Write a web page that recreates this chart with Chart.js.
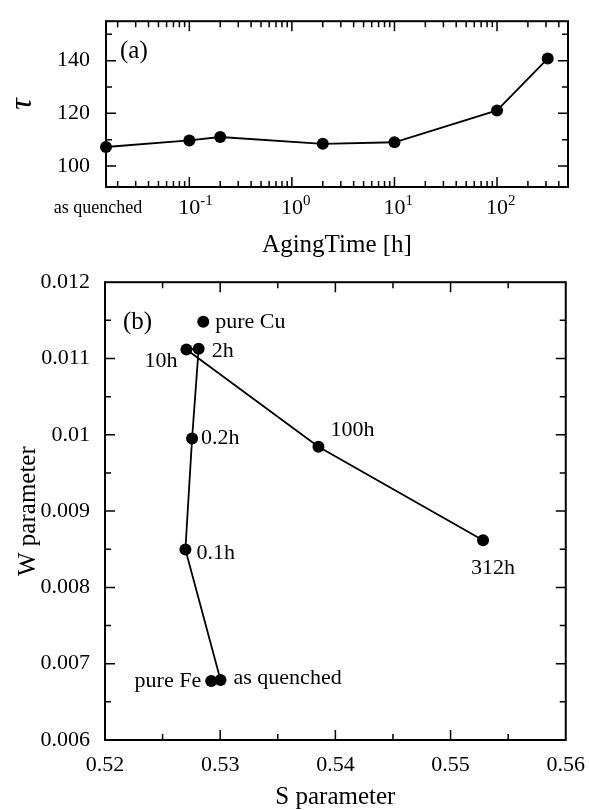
<!DOCTYPE html>
<html>
<head>
<meta charset="utf-8">
<script src="https://cdn.jsdelivr.net/npm/chart.js@4.4.1/dist/chart.umd.min.js"></script>
<style>
  html, body { margin: 0; padding: 0; background: #fff; }
  #wrap { position: relative; width: 589px; height: 810px; }
  #chartA { position: absolute; left: 0; top: 0; }
  #chartB { position: absolute; left: 0; top: 262px; }
</style>
</head>
<body>
<div id="wrap">
  <canvas id="chartA" width="589" height="262"></canvas>
  <canvas id="chartB" width="589" height="548"></canvas>
</div>
<script>
'use strict';
// (a) tau vs aging time, (b) S-W parameter plot

// panel (a) data
var agingTimes = [0.0154, 0.1, 0.2, 2, 10, 100, 312];
var tauValues = [107.2, 109.7, 111.0, 108.4, 109.0, 121.1, 140.8];
var timeTicks = [0.0154, 0.1, 1, 10, 100];
var timeTickLabels = ['as quenched', '10^-1', '10^0', '10^1', '10^2'];
var tauTicks = [100, 120, 140];

// panel (b) data
var agingLabels = ['as quenched', '0.1h', '0.2h', '2h', '10h', '100h', '312h'];
var sValues = [0.53003, 0.52698, 0.52756, 0.52813, 0.52707, 0.53853, 0.55282];
var wValues = [0.006786, 0.008498, 0.009951, 0.011127, 0.011118, 0.009843, 0.008619];
var refLabels = ['pure Cu', 'pure Fe'];
var refS = [0.52853, 0.52922];
var refW = [0.011481, 0.006773];
var sTicks = [0.52, 0.53, 0.54, 0.55, 0.56];
var wTicks = [0.006, 0.007, 0.008, 0.009, 0.010, 0.011, 0.012];

var SERIF = "'Liberation Serif', 'Times New Roman', serif";

// frame with inward ticks on all four sides
var frameTicks = {
  id: 'frameTicks',
  beforeDatasetsDraw: function(chart, args, opts) {
    var ctx = chart.ctx;
    var a = chart.chartArea;
    var xs = chart.scales.x;
    var ys = chart.scales.y;
    ctx.save();
    ctx.strokeStyle = '#000';
    ctx.lineWidth = 1.5;
    ctx.beginPath();
    var tickX = function(v, len) {
      var px = xs.getPixelForValue(v);
      ctx.moveTo(px, a.bottom); ctx.lineTo(px, a.bottom - len);
      ctx.moveTo(px, a.top); ctx.lineTo(px, a.top + len);
    };
    var tickY = function(v, len) {
      var py = ys.getPixelForValue(v);
      ctx.moveTo(a.left, py); ctx.lineTo(a.left + len, py);
      ctx.moveTo(a.right, py); ctx.lineTo(a.right - len, py);
    };
    opts.majorX.forEach(function(v) { tickX(v, 10); });
    opts.minorX.forEach(function(v) { tickX(v, 6); });
    opts.majorY.forEach(function(v) { tickY(v, 10); });
    opts.minorY.forEach(function(v) { tickY(v, 6); });
    ctx.stroke();
    ctx.lineWidth = 2;
    ctx.strokeRect(a.left, a.top, a.right - a.left, a.bottom - a.top);
    ctx.font = '25px ' + SERIF;
    ctx.fillStyle = '#000';
    ctx.textAlign = 'left';
    ctx.textBaseline = 'middle';
    ctx.fillText(opts.panel, a.left + opts.panelDx, a.top + opts.panelDy);
    ctx.restore();
  }
};

// log-axis labels with superscripts for panel (a)
var powerLabels = {
  id: 'powerLabels',
  afterDraw: function(chart) {
    var ctx = chart.ctx;
    var a = chart.chartArea;
    var xs = chart.scales.x;
    ctx.save();
    ctx.fillStyle = '#000';
    ctx.textBaseline = 'middle';
    timeTicks.forEach(function(v, i) {
      var px = xs.getPixelForValue(v);
      var lab = timeTickLabels[i];
      var parts = lab.split('^');
      if (parts.length === 1) {
        ctx.font = '18px ' + SERIF;
        ctx.textAlign = 'center';
        ctx.fillText(lab, px - 8, a.bottom + 21);
      } else {
        ctx.font = '22px ' + SERIF;
        ctx.textAlign = 'center';
        ctx.fillText(parts[0], px, a.bottom + 21);
        var w = ctx.measureText(parts[0]).width;
        ctx.font = '15px ' + SERIF;
        ctx.textAlign = 'left';
        ctx.fillText(parts[1], px + w / 2, a.bottom + 14);
      }
    });
    ctx.restore();
  }
};

// text next to the points of panel (b)
var pointNotes = {
  id: 'pointNotes',
  afterDatasetsDraw: function(chart, args, opts) {
    var ctx = chart.ctx;
    ctx.save();
    ctx.fillStyle = '#000';
    ctx.font = '22px ' + SERIF;
    ctx.textBaseline = 'middle';
    opts.notes.forEach(function(n) {
      var el = chart.getDatasetMeta(n.ds).data[n.i];
      var text = n.ds === 0 ? agingLabels[n.i] : refLabels[n.i];
      ctx.textAlign = n.align;
      ctx.fillText(text, el.x + n.dx, el.y + n.dy);
    });
    ctx.restore();
  }
};

var logMinor = [];
[0.01, 0.1, 1, 10, 100].forEach(function(d) {
  for (var k = 2; k <= 9; k++) {
    var v = k * d;
    if (v > 0.0154 && v < 492) logMinor.push(v);
  }
});

var chartA = new Chart(document.getElementById('chartA').getContext('2d'), {
  type: 'scatter',
  data: {
    datasets: [{
      data: agingTimes.map(function(t, i) { return { x: t, y: tauValues[i] }; }),
      showLine: true,
      borderColor: '#000',
      borderWidth: 1.8,
      backgroundColor: '#000',
      pointRadius: 6,
      pointBorderWidth: 0,
      clip: false
    }]
  },
  options: {
    responsive: false,
    animation: false,
    layout: { autoPadding: false, padding: { top: 9, right: 21, left: 0, bottom: 0 } },
    plugins: {
      legend: { display: false },
      tooltip: { enabled: false },
      frameTicks: {
        majorX: [0.1, 1, 10, 100], minorX: logMinor,
        majorY: tauTicks, minorY: [110, 130, 150],
        panel: '(a)', panelDx: 14, panelDy: 30
      }
    },
    scales: {
      x: {
        type: 'logarithmic',
        min: 0.0154,
        max: 492,
        grid: { display: false },
        border: { display: false },
        ticks: { display: false },
        afterBuildTicks: function(scale) { scale.ticks = timeTicks.map(function(v) { return { value: v }; }); },
        afterFit: function(scale) { scale.height = 75; },
        title: {
          display: true, text: 'AgingTime [h]', color: '#000',
          font: { family: SERIF, size: 25, lineHeight: 1 },
          padding: { top: 0, bottom: 4.5 }
        }
      },
      y: {
        min: 92,
        max: 155,
        grid: { display: false },
        border: { display: false },
        afterBuildTicks: function(scale) { scale.ticks = tauTicks.map(function(v) { return { value: v }; }); },
        afterFit: function(scale) { scale.width = 106; },
        ticks: { color: '#000', padding: 8, autoSkip: false, font: { family: SERIF, size: 22 } },
        title: {
          display: true, text: 'τ', color: '#000',
          font: { family: SERIF, size: 32, style: 'italic', lineHeight: 1 },
          padding: { top: 7, bottom: 0 }
        }
      }
    }
  },
  plugins: [frameTicks, powerLabels]
});

var chartB = new Chart(document.getElementById('chartB').getContext('2d'), {
  type: 'scatter',
  data: {
    datasets: [{
      data: sValues.map(function(s, i) { return { x: s, y: wValues[i] }; }),
      showLine: true,
      borderColor: '#000',
      borderWidth: 1.8,
      backgroundColor: '#000',
      pointRadius: 6,
      pointBorderWidth: 0,
      clip: false
    }, {
      data: refS.map(function(s, i) { return { x: s, y: refW[i] }; }),
      showLine: false,
      backgroundColor: '#000',
      pointRadius: 6,
      pointBorderWidth: 0,
      clip: false
    }]
  },
  options: {
    responsive: false,
    animation: false,
    layout: { autoPadding: false, padding: { top: 15, right: 20, left: 0, bottom: 0 } },
    plugins: {
      legend: { display: false },
      tooltip: { enabled: false },
      frameTicks: {
        majorX: [0.53, 0.54, 0.55], minorX: [0.525, 0.535, 0.545, 0.555],
        majorY: [0.007, 0.008, 0.009, 0.010, 0.011],
        minorY: [0.0065, 0.0075, 0.0085, 0.0095, 0.0105, 0.0115],
        panel: '(b)', panelDx: 18, panelDy: 40
      },
      pointNotes: {
        notes: [
          { ds: 0, i: 0, dx: 13, dy: -2, align: 'left' },
          { ds: 0, i: 1, dx: 11, dy: 4, align: 'left' },
          { ds: 0, i: 2, dx: 9, dy: 0, align: 'left' },
          { ds: 0, i: 3, dx: 13, dy: 2, align: 'left' },
          { ds: 0, i: 4, dx: -9, dy: 12, align: 'right' },
          { ds: 0, i: 5, dx: 12, dy: -17, align: 'left' },
          { ds: 0, i: 6, dx: 10, dy: 28, align: 'center' },
          { ds: 1, i: 0, dx: 12, dy: 0, align: 'left' },
          { ds: 1, i: 1, dx: -10, dy: 0, align: 'right' }
        ]
      }
    },
    scales: {
      x: {
        type: 'linear',
        min: 0.52,
        max: 0.56,
        grid: { display: false },
        border: { display: false },
        afterBuildTicks: function(scale) { scale.ticks = sTicks.map(function(v) { return { value: v }; }); },
        afterFit: function(scale) { scale.height = 70; },
        ticks: {
          color: '#000', padding: 4, autoSkip: false, maxRotation: 0,
          font: { family: SERIF, size: 22 },
          callback: function(v) { return String(+v.toFixed(2)); }
        },
        title: {
          display: true, text: 'S parameter', color: '#000',
          font: { family: SERIF, size: 25, lineHeight: 1 },
          padding: { top: 0, bottom: 0.5 }
        }
      },
      y: {
        min: 0.006,
        max: 0.012,
        grid: { display: false },
        border: { display: false },
        afterBuildTicks: function(scale) { scale.ticks = wTicks.map(function(v) { return { value: v }; }); },
        afterFit: function(scale) { scale.width = 105; },
        ticks: {
          color: '#000', padding: 7, autoSkip: false,
          font: { family: SERIF, size: 22 },
          callback: function(v) { return String(+v.toFixed(3)); }
        },
        title: {
          display: true, text: 'W parameter', color: '#000',
          font: { family: SERIF, size: 25, lineHeight: 1 },
          padding: { top: 15.5, bottom: 0 }
        }
      }
    }
  },
  plugins: [frameTicks, pointNotes]
});
</script>
</body>
</html>
